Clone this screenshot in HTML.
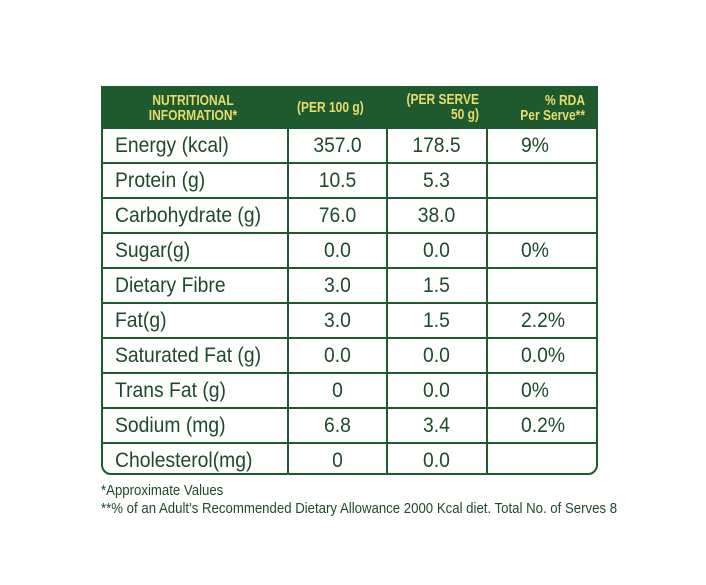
<!DOCTYPE html>
<html><head><meta charset="utf-8"><style>
body{margin:0;width:706px;height:585px;background:#fff;position:relative;overflow:hidden;font-family:"Liberation Sans",sans-serif;}
#tbl{position:absolute;left:101px;top:86px;width:497px;height:389px;border:2px solid #1f5a2e;border-radius:0 0 10px 10px;box-sizing:border-box;overflow:hidden}
.hdr{position:absolute;left:0;top:0;width:100%;height:41px;background:#1f5a2e}
.h{position:absolute;color:#e9dc6e;font-weight:bold;font-size:15px;line-height:15px;white-space:nowrap;transform:scaleX(0.8)}
.row{position:absolute;left:0;width:100%;height:35px;border-top:2px solid #1f5a2e;box-sizing:border-box}
.c{position:absolute;top:0;height:33px;line-height:33px;color:#1e4a2c;font-size:21px;white-space:nowrap;transform:scaleX(0.92);transform-origin:left center}
.vl{position:absolute;top:41px;bottom:0;width:2px;background:#1f5a2e}
.note{position:absolute;left:101px;color:#1e4a2c;font-size:15px;white-space:nowrap;transform:scaleX(0.88);transform-origin:left center}
</style></head><body>
<div id="tbl">
<div class="hdr">
<div class="h" style="left:20px;top:5px;text-align:center;width:140px;transform-origin:center">NUTRITIONAL<br>INFORMATION*</div>
<div class="h" style="left:194px;top:12px;transform-origin:left">(PER 100 g)</div>
<div class="h" style="left:270px;top:4px;text-align:right;width:106px;transform-origin:right">(PER SERVE<br>50 g)</div>
<div class="h" style="left:370px;top:5px;text-align:right;width:112px;transform-origin:right">% RDA<br>Per Serve**</div>
</div>
<div class="vl" style="left:184px"></div>
<div class="vl" style="left:283px"></div>
<div class="vl" style="left:383px"></div>
<div id="rows"></div>
</div>
<div class="note" style="top:482px">*Approximate Values</div>
<div class="note" style="top:500px">**% of an Adult’s Recommended Dietary Allowance 2000 Kcal diet. Total No. of Serves 8</div>
<script>
const nutrients=["Energy (kcal)","Protein (g)","Carbohydrate (g)","Sugar(g)","Dietary Fibre","Fat(g)","Saturated Fat (g)","Trans Fat (g)","Sodium (mg)","Cholesterol(mg)"];
const per100=["357.0","10.5","76.0","0.0","3.0","3.0","0.0","0","6.8","0"];
const perServe=["178.5","5.3","38.0","0.0","1.5","1.5","0.0","0.0","3.4","0.0"];
const rda=["9%","","","0%","","2.2%","0.0%","0%","0.2%",""];
const rows=document.getElementById('rows');
nutrients.forEach((n,i)=>{
 const r=document.createElement('div');r.className='row';r.style.top=(39+i*35)+'px';
 
 
 rows.appendChild(r);
 const cells=[n,per100[i],perServe[i],rda[i]];
 cells.forEach((c,j)=>{
  const d=document.createElement('div');d.className='c';d.textContent=c;
  
  
  if(j===0){d.style.left='12px';}
  else if(j===3){d.style.left='418px';}
  else{d.style.left=(j===1?186:285)+'px';d.style.width='97px';d.style.textAlign='center';d.style.transformOrigin='center';}
  r.appendChild(d);
 });
});
</script>
</body></html>
